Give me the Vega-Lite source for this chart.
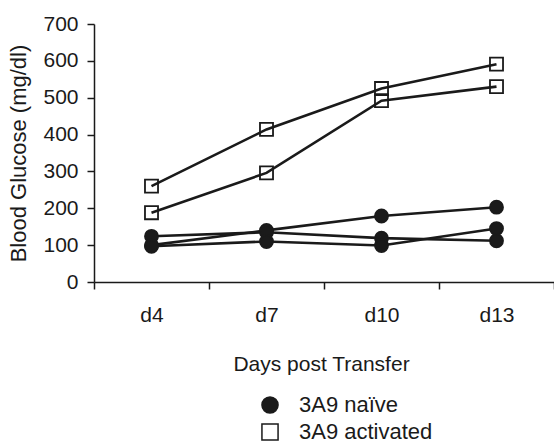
{
  "$schema": "https://vega.github.io/schema/vega-lite/v6.json",
  "width": 460,
  "height": 258,
  "autosize": {"type": "none"},
  "padding": {"left": 94, "top": 24, "right": 0, "bottom": 163},
  "background": "white",
  "config": {"font": "Liberation Sans", "view": {"stroke": null}},
  "data": {
    "values": [
      {"mouse": "N1", "group": "3A9 naïve", "day": "d4", "glucose": 100},
      {"mouse": "N1", "group": "3A9 naïve", "day": "d7", "glucose": 140},
      {"mouse": "N1", "group": "3A9 naïve", "day": "d10", "glucose": 179},
      {"mouse": "N1", "group": "3A9 naïve", "day": "d13", "glucose": 203},
      {"mouse": "N2", "group": "3A9 naïve", "day": "d4", "glucose": 124},
      {"mouse": "N2", "group": "3A9 naïve", "day": "d7", "glucose": 135},
      {"mouse": "N2", "group": "3A9 naïve", "day": "d10", "glucose": 119},
      {"mouse": "N2", "group": "3A9 naïve", "day": "d13", "glucose": 112},
      {"mouse": "N3", "group": "3A9 naïve", "day": "d4", "glucose": 97},
      {"mouse": "N3", "group": "3A9 naïve", "day": "d7", "glucose": 110},
      {"mouse": "N3", "group": "3A9 naïve", "day": "d10", "glucose": 99},
      {"mouse": "N3", "group": "3A9 naïve", "day": "d13", "glucose": 145},
      {"mouse": "A1", "group": "3A9 activated", "day": "d4", "glucose": 260},
      {"mouse": "A1", "group": "3A9 activated", "day": "d7", "glucose": 414},
      {"mouse": "A1", "group": "3A9 activated", "day": "d10", "glucose": 525},
      {"mouse": "A1", "group": "3A9 activated", "day": "d13", "glucose": 591},
      {"mouse": "A2", "group": "3A9 activated", "day": "d4", "glucose": 188},
      {"mouse": "A2", "group": "3A9 activated", "day": "d7", "glucose": 296},
      {"mouse": "A2", "group": "3A9 activated", "day": "d10", "glucose": 492},
      {"mouse": "A2", "group": "3A9 activated", "day": "d13", "glucose": 530}
    ]
  },
  "encoding": {
    "x": {
      "field": "day",
      "type": "nominal",
      "sort": ["d4", "d7", "d10", "d13"],
      "scale": {"type": "band", "domain": ["d4", "d7", "d10", "d13"], "paddingInner": 0, "paddingOuter": 0},
      "axis": {
        "title": "Days post Transfer",
        "titleFontSize": 21,
        "titleFontWeight": "normal",
        "titleColor": "#1a1a1a",
        "titlePadding": 28,
        "titleX": 227,
        "labelFontSize": 21,
        "labelColor": "#1a1a1a",
        "labelPadding": 15,
        "labelAngle": 0,
        "tickBand": "extent",
        "tickSize": 7,
        "tickWidth": 1.5,
        "tickColor": "#1a1a1a",
        "domainColor": "#1a1a1a",
        "domainWidth": 1.5,
        "grid": false
      }
    },
    "y": {
      "field": "glucose",
      "type": "quantitative",
      "scale": {"domain": [0, 700], "nice": false},
      "axis": {
        "title": "Blood Glucose (mg/dl)",
        "titleFontSize": 22,
        "titleFontWeight": "normal",
        "titleColor": "#1a1a1a",
        "titlePadding": 12,
        "values": [0, 100, 200, 300, 400, 500, 600, 700],
        "labelFontSize": 21,
        "labelColor": "#1a1a1a",
        "labelPadding": 9,
        "tickSize": 7,
        "tickWidth": 1.5,
        "tickColor": "#1a1a1a",
        "domainColor": "#1a1a1a",
        "domainWidth": 1.5,
        "grid": false
      }
    }
  },
  "layer": [
    {
      "mark": {"type": "line", "color": "#1a1a1a", "strokeWidth": 2.6},
      "encoding": {"detail": {"field": "mouse", "type": "nominal"}}
    },
    {
      "mark": {"type": "point", "filled": true, "strokeWidth": 1.8, "size": 170, "opacity": 1},
      "encoding": {
        "shape": {
          "field": "group",
          "type": "nominal",
          "scale": {"domain": ["3A9 naïve", "3A9 activated"], "range": ["circle", "square"]},
          "legend": {
            "title": null,
            "orient": "none",
            "legendX": 165,
            "legendY": 370,
            "padding": 0,
            "symbolSize": 260,
            "symbolStrokeWidth": 1.5,
            "labelFontSize": 22,
            "labelColor": "#1a1a1a",
            "labelOffset": 18,
            "rowPadding": 3
          }
        },
        "fill": {
          "field": "group",
          "type": "nominal",
          "scale": {"domain": ["3A9 naïve", "3A9 activated"], "range": ["#1a1a1a", "transparent"]},
          "legend": {
            "title": null,
            "orient": "none",
            "legendX": 165,
            "legendY": 370,
            "padding": 0,
            "symbolSize": 260,
            "symbolStrokeWidth": 1.5,
            "labelFontSize": 22,
            "labelColor": "#1a1a1a",
            "labelOffset": 18,
            "rowPadding": 3
          }
        },
        "stroke": {
          "field": "group",
          "type": "nominal",
          "scale": {"domain": ["3A9 naïve", "3A9 activated"], "range": ["#1a1a1a", "#1a1a1a"]},
          "legend": {
            "title": null,
            "orient": "none",
            "legendX": 165,
            "legendY": 370,
            "padding": 0,
            "symbolSize": 260,
            "symbolStrokeWidth": 1.5,
            "labelFontSize": 22,
            "labelColor": "#1a1a1a",
            "labelOffset": 18,
            "rowPadding": 3
          }
        }
      }
    }
  ]
}
